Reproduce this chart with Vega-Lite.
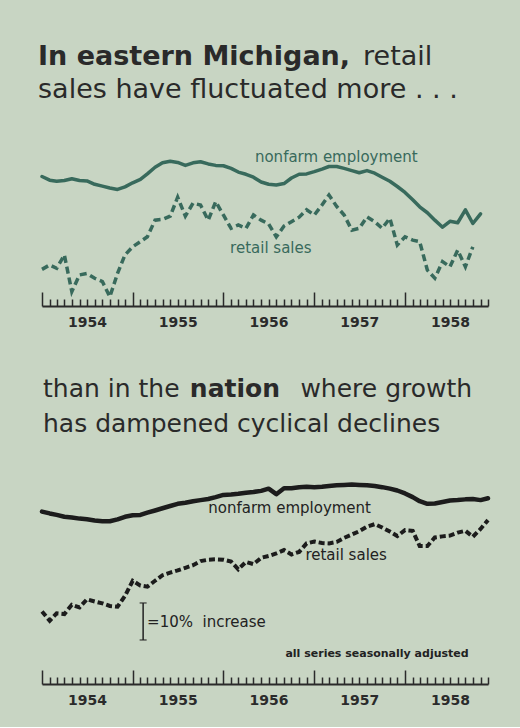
{
  "$schema": "https://vega.github.io/schema/vega-lite/v6.json",
  "background": "#c8d5c3",
  "padding": {"left": 34, "top": 10, "right": 32, "bottom": 20},
  "bounds": "flush",
  "spacing": 45,
  "config": {"view": {"stroke": null}, "font": "DejaVu Sans"},
  "datasets": {
    "michigan": [
      {"month":"1954-01-01","employment":35.0,"retail":9.9},
      {"month":"1954-02-01","employment":34.0,"retail":11.1},
      {"month":"1954-03-01","employment":33.7,"retail":10.2},
      {"month":"1954-04-01","employment":33.9,"retail":13.8},
      {"month":"1954-05-01","employment":34.4,"retail":3.9},
      {"month":"1954-06-01","employment":33.9,"retail":8.4},
      {"month":"1954-07-01","employment":33.8,"retail":8.8},
      {"month":"1954-08-01","employment":32.9,"retail":7.5},
      {"month":"1954-09-01","employment":32.4,"retail":6.6},
      {"month":"1954-10-01","employment":31.9,"retail":2.5},
      {"month":"1954-11-01","employment":31.5,"retail":8.8},
      {"month":"1954-12-01","employment":32.2,"retail":13.8},
      {"month":"1955-01-01","employment":33.3,"retail":16.0},
      {"month":"1955-02-01","employment":34.2,"retail":17.4},
      {"month":"1955-03-01","employment":35.7,"retail":18.7},
      {"month":"1955-04-01","employment":37.5,"retail":23.2},
      {"month":"1955-05-01","employment":38.7,"retail":23.4},
      {"month":"1955-06-01","employment":39.1,"retail":24.3},
      {"month":"1955-07-01","employment":38.8,"retail":29.4},
      {"month":"1955-08-01","employment":38.0,"retail":24.3},
      {"month":"1955-09-01","employment":38.7,"retail":27.8},
      {"month":"1955-10-01","employment":39.0,"retail":27.3},
      {"month":"1955-11-01","employment":38.4,"retail":23.2},
      {"month":"1955-12-01","employment":38.0,"retail":28.2},
      {"month":"1956-01-01","employment":37.9,"retail":24.6},
      {"month":"1956-02-01","employment":37.2,"retail":21.0},
      {"month":"1956-03-01","employment":36.2,"retail":21.9},
      {"month":"1956-04-01","employment":35.6,"retail":21.0},
      {"month":"1956-05-01","employment":34.8,"retail":24.6},
      {"month":"1956-06-01","employment":33.5,"retail":23.2},
      {"month":"1956-07-01","employment":32.9,"retail":22.2},
      {"month":"1956-08-01","employment":32.7,"retail":18.7},
      {"month":"1956-09-01","employment":33.1,"retail":21.6},
      {"month":"1956-10-01","employment":34.6,"retail":22.8},
      {"month":"1956-11-01","employment":35.6,"retail":24.0},
      {"month":"1956-12-01","employment":35.7,"retail":26.0},
      {"month":"1957-01-01","employment":36.3,"retail":24.6},
      {"month":"1957-02-01","employment":37.0,"retail":27.3},
      {"month":"1957-03-01","employment":37.7,"retail":30.0},
      {"month":"1957-04-01","employment":37.7,"retail":26.9},
      {"month":"1957-05-01","employment":37.2,"retail":24.6},
      {"month":"1957-06-01","employment":36.6,"retail":20.5},
      {"month":"1957-07-01","employment":36.0,"retail":21.0},
      {"month":"1957-08-01","employment":36.6,"retail":24.1},
      {"month":"1957-09-01","employment":35.9,"retail":22.8},
      {"month":"1957-10-01","employment":34.8,"retail":21.0},
      {"month":"1957-11-01","employment":33.7,"retail":23.7},
      {"month":"1957-12-01","employment":32.3,"retail":16.5},
      {"month":"1958-01-01","employment":30.7,"retail":18.7},
      {"month":"1958-02-01","employment":28.7,"retail":17.8},
      {"month":"1958-03-01","employment":26.8,"retail":17.4},
      {"month":"1958-04-01","employment":25.2,"retail":9.7},
      {"month":"1958-05-01","employment":23.2,"retail":7.5},
      {"month":"1958-06-01","employment":21.3,"retail":12.0},
      {"month":"1958-07-01","employment":22.9,"retail":10.6},
      {"month":"1958-08-01","employment":22.5,"retail":15.1},
      {"month":"1958-09-01","employment":26.0,"retail":10.6},
      {"month":"1958-10-01","employment":22.3,"retail":16.0},
      {"month":"1958-11-01","employment":24.9,"retail":null}
    ],
    "nation": [
      {"month":"1954-01-01","employment":46.6,"retail":19.6},
      {"month":"1954-02-01","employment":46.1,"retail":17.1},
      {"month":"1954-03-01","employment":45.7,"retail":19.1},
      {"month":"1954-04-01","employment":45.2,"retail":18.9},
      {"month":"1954-05-01","employment":45.0,"retail":21.4},
      {"month":"1954-06-01","employment":44.7,"retail":20.7},
      {"month":"1954-07-01","employment":44.5,"retail":22.9},
      {"month":"1954-08-01","employment":44.2,"retail":22.3},
      {"month":"1954-09-01","employment":44.0,"retail":21.8},
      {"month":"1954-10-01","employment":44.0,"retail":21.1},
      {"month":"1954-11-01","employment":44.5,"retail":20.9},
      {"month":"1954-12-01","employment":45.2,"retail":23.8},
      {"month":"1955-01-01","employment":45.6,"retail":27.9},
      {"month":"1955-02-01","employment":45.7,"retail":26.6},
      {"month":"1955-03-01","employment":46.3,"retail":26.3},
      {"month":"1955-04-01","employment":46.9,"retail":27.9},
      {"month":"1955-05-01","employment":47.5,"retail":29.4},
      {"month":"1955-06-01","employment":48.1,"retail":30.1},
      {"month":"1955-07-01","employment":48.7,"retail":30.7},
      {"month":"1955-08-01","employment":49.0,"retail":31.4},
      {"month":"1955-09-01","employment":49.4,"retail":32.1},
      {"month":"1955-10-01","employment":49.7,"retail":33.2},
      {"month":"1955-11-01","employment":50.0,"retail":33.6},
      {"month":"1955-12-01","employment":50.5,"retail":33.7},
      {"month":"1956-01-01","employment":51.1,"retail":33.6},
      {"month":"1956-02-01","employment":51.2,"retail":33.1},
      {"month":"1956-03-01","employment":51.4,"retail":31.0},
      {"month":"1956-04-01","employment":51.7,"retail":33.0},
      {"month":"1956-05-01","employment":51.9,"retail":32.4},
      {"month":"1956-06-01","employment":52.2,"retail":34.1},
      {"month":"1956-07-01","employment":52.8,"retail":34.6},
      {"month":"1956-08-01","employment":51.3,"retail":35.3},
      {"month":"1956-09-01","employment":52.9,"retail":36.2},
      {"month":"1956-10-01","employment":52.9,"retail":35.0},
      {"month":"1956-11-01","employment":53.2,"retail":35.7},
      {"month":"1956-12-01","employment":53.3,"retail":38.0},
      {"month":"1957-01-01","employment":53.2,"retail":38.5},
      {"month":"1957-02-01","employment":53.3,"retail":38.1},
      {"month":"1957-03-01","employment":53.5,"retail":38.0},
      {"month":"1957-04-01","employment":53.7,"retail":38.4},
      {"month":"1957-05-01","employment":53.8,"retail":39.5},
      {"month":"1957-06-01","employment":53.9,"retail":40.4},
      {"month":"1957-07-01","employment":53.8,"retail":41.3},
      {"month":"1957-08-01","employment":53.7,"retail":42.5},
      {"month":"1957-09-01","employment":53.5,"retail":43.2},
      {"month":"1957-10-01","employment":53.2,"retail":42.3},
      {"month":"1957-11-01","employment":52.8,"retail":41.2},
      {"month":"1957-12-01","employment":52.3,"retail":40.0},
      {"month":"1958-01-01","employment":51.5,"retail":41.6},
      {"month":"1958-02-01","employment":50.5,"retail":41.4},
      {"month":"1958-03-01","employment":49.4,"retail":37.3},
      {"month":"1958-04-01","employment":48.7,"retail":37.3},
      {"month":"1958-05-01","employment":48.8,"retail":39.6},
      {"month":"1958-06-01","employment":49.2,"retail":39.9},
      {"month":"1958-07-01","employment":49.6,"retail":40.1},
      {"month":"1958-08-01","employment":49.7,"retail":40.9},
      {"month":"1958-09-01","employment":49.9,"retail":41.4},
      {"month":"1958-10-01","employment":50.0,"retail":39.8},
      {"month":"1958-11-01","employment":49.7,"retail":41.9},
      {"month":"1958-12-01","employment":50.2,"retail":44.3}
    ],
    "textA": [
      {"x":"1953-12-16","y":65.1,"text":"In eastern Michigan,","role":"titleBold"},
      {"x":"1957-07-16","y":65.1,"text":"retail","role":"title"},
      {"x":"1953-12-16","y":56.2,"text":"sales have fluctuated more . . .","role":"title"},
      {"x":"1956-05-07","y":38.9,"text":"nonfarm employment","role":"label"},
      {"x":"1956-01-28","y":14.3,"text":"retail sales","role":"label"}
    ],
    "textB": [
      {"x":"1954-01-05","y":77.6,"text":"than in the","role":"title"},
      {"x":"1955-08-19","y":77.6,"text":"nation","role":"titleBold"},
      {"x":"1956-11-06","y":77.6,"text":"where growth","role":"title"},
      {"x":"1954-01-05","y":68.1,"text":"has dampened cyclical declines","role":"title"},
      {"x":"1955-11-01","y":46.2,"text":"nonfarm employment","role":"label"},
      {"x":"1956-11-26","y":33.5,"text":"retail sales","role":"label"},
      {"x":"1955-02-28","y":15.4,"text":"=10%\u00a0\u00a0increase","role":"label"},
      {"x":"1958-09-14","y":7.3,"text":"all series seasonally adjusted","role":"note"}
    ],
    "scalebar": [
      {"x":"1955-02-12","lo":11.9,"hi":21.9}
    ]
  },
  "vconcat": [
    {
      "width": 446,
      "height": 296,
      "layer": [
        {
          "data": {"name": "michigan"},
          "mark": {"type": "line", "color": "#386a5c", "strokeWidth": 3.5, "strokeJoin": "round", "strokeCap": "round"},
          "encoding": {
            "x": {
              "field": "month", "type": "temporal", "title": null,
              "scale": {"type": "utc", "domain": [{"year": 1954, "month": 1, "date": 1, "utc": true}, {"year": 1958, "month": 12, "date": 1, "utc": true}]},
              "axis": {
                "title": null, "grid": false,
                "tickCount": {"interval": "month", "step": 1},
                "tickSize": {"condition": {"test": "utcmonth(datum.value) === 0", "value": -14}, "value": -7},
                "tickWidth": 1.5, "tickColor": "#2a2a2a",
                "domainColor": "#2a2a2a", "domainWidth": 2,
                "labelExpr": "utcmonth(datum.value) === 6 ? utcFormat(datum.value, '%Y') : ''",
                "labelOverlap": false, "labelFlush": false, "labelBound": false,
                "labelFont": "DejaVu Sans", "labelFontSize": 14, "labelFontWeight": "bold",
                "labelColor": "#2b2b2b", "labelPadding": 16
              }
            },
            "y": {"field": "employment", "type": "quantitative", "scale": {"domain": [0, 80]}, "axis": null}
          }
        },
        {
          "data": {"name": "michigan"},
          "mark": {"type": "line", "color": "#386a5c", "strokeWidth": 3.5, "strokeDash": [7, 4]},
          "encoding": {
            "x": {"field": "month", "type": "temporal", "title": null},
            "y": {"field": "retail", "type": "quantitative", "axis": null}
          }
        },
        {
          "data": {"name": "textA"},
          "transform": [{"filter": "datum.role === 'titleBold'"}],
          "mark": {"type": "text", "align": "left", "baseline": "alphabetic", "font": "DejaVu Sans", "fontSize": 27, "fontWeight": "bold", "color": "#2a2a2a"},
          "encoding": {
            "x": {"field": "x", "type": "temporal", "title": null},
            "y": {"field": "y", "type": "quantitative", "axis": null},
            "text": {"field": "text"}
          }
        },
        {
          "data": {"name": "textA"},
          "transform": [{"filter": "datum.role === 'title'"}],
          "mark": {"type": "text", "align": "left", "baseline": "alphabetic", "font": "DejaVu Sans", "fontSize": 27, "color": "#2a2a2a"},
          "encoding": {
            "x": {"field": "x", "type": "temporal", "title": null},
            "y": {"field": "y", "type": "quantitative", "axis": null},
            "text": {"field": "text"}
          }
        },
        {
          "data": {"name": "textA"},
          "transform": [{"filter": "datum.role === 'label'"}],
          "mark": {"type": "text", "align": "left", "baseline": "alphabetic", "font": "DejaVu Sans", "fontSize": 15, "color": "#386a5c"},
          "encoding": {
            "x": {"field": "x", "type": "temporal", "title": null},
            "y": {"field": "y", "type": "quantitative", "axis": null},
            "text": {"field": "text"}
          }
        }
      ]
    },
    {
      "width": 446,
      "height": 333,
      "layer": [
        {
          "data": {"name": "nation"},
          "mark": {"type": "line", "color": "#1c1c1c", "strokeWidth": 4.5, "strokeJoin": "round", "strokeCap": "round"},
          "encoding": {
            "x": {
              "field": "month", "type": "temporal", "title": null,
              "scale": {"type": "utc", "domain": [{"year": 1954, "month": 1, "date": 1, "utc": true}, {"year": 1958, "month": 12, "date": 1, "utc": true}]},
              "axis": {
                "title": null, "grid": false,
                "tickCount": {"interval": "month", "step": 1},
                "tickSize": {"condition": {"test": "utcmonth(datum.value) === 0", "value": -14}, "value": -7},
                "tickWidth": 1.5, "tickColor": "#2a2a2a",
                "domainColor": "#2a2a2a", "domainWidth": 2,
                "labelExpr": "utcmonth(datum.value) === 6 ? utcFormat(datum.value, '%Y') : ''",
                "labelOverlap": false, "labelFlush": false, "labelBound": false,
                "labelFont": "DejaVu Sans", "labelFontSize": 14, "labelFontWeight": "bold",
                "labelColor": "#2b2b2b", "labelPadding": 16
              }
            },
            "y": {"field": "employment", "type": "quantitative", "scale": {"domain": [0, 90]}, "axis": null}
          }
        },
        {
          "data": {"name": "nation"},
          "mark": {"type": "line", "color": "#1c1c1c", "strokeWidth": 4, "strokeDash": [6, 3]},
          "encoding": {
            "x": {"field": "month", "type": "temporal", "title": null},
            "y": {"field": "retail", "type": "quantitative", "axis": null}
          }
        },
        {
          "data": {"name": "textB"},
          "transform": [{"filter": "datum.role === 'titleBold'"}],
          "mark": {"type": "text", "align": "left", "baseline": "alphabetic", "font": "DejaVu Sans", "fontSize": 25, "fontWeight": "bold", "color": "#2a2a2a"},
          "encoding": {
            "x": {"field": "x", "type": "temporal", "title": null},
            "y": {"field": "y", "type": "quantitative", "axis": null},
            "text": {"field": "text"}
          }
        },
        {
          "data": {"name": "textB"},
          "transform": [{"filter": "datum.role === 'title'"}],
          "mark": {"type": "text", "align": "left", "baseline": "alphabetic", "font": "DejaVu Sans", "fontSize": 25, "color": "#2a2a2a"},
          "encoding": {
            "x": {"field": "x", "type": "temporal", "title": null},
            "y": {"field": "y", "type": "quantitative", "axis": null},
            "text": {"field": "text"}
          }
        },
        {
          "data": {"name": "textB"},
          "transform": [{"filter": "datum.role === 'label'"}],
          "mark": {"type": "text", "align": "left", "baseline": "alphabetic", "font": "DejaVu Sans", "fontSize": 15, "color": "#222222"},
          "encoding": {
            "x": {"field": "x", "type": "temporal", "title": null},
            "y": {"field": "y", "type": "quantitative", "axis": null},
            "text": {"field": "text"}
          }
        },
        {
          "data": {"name": "textB"},
          "transform": [{"filter": "datum.role === 'note'"}],
          "mark": {"type": "text", "align": "right", "baseline": "alphabetic", "font": "DejaVu Sans", "fontSize": 11, "fontWeight": "bold", "color": "#222222"},
          "encoding": {
            "x": {"field": "x", "type": "temporal", "title": null},
            "y": {"field": "y", "type": "quantitative", "axis": null},
            "text": {"field": "text"}
          }
        },
        {
          "data": {"name": "scalebar"},
          "mark": {"type": "rule", "color": "#222222", "strokeWidth": 1.5},
          "encoding": {
            "x": {"field": "x", "type": "temporal", "title": null},
            "y": {"field": "lo", "type": "quantitative", "axis": null},
            "y2": {"field": "hi"}
          }
        },
        {
          "data": {"name": "scalebar"},
          "mark": {"type": "tick", "orient": "horizontal", "color": "#222222", "size": 7, "thickness": 1.5},
          "encoding": {
            "x": {"field": "x", "type": "temporal", "title": null},
            "y": {"field": "lo", "type": "quantitative", "axis": null}
          }
        },
        {
          "data": {"name": "scalebar"},
          "mark": {"type": "tick", "orient": "horizontal", "color": "#222222", "size": 7, "thickness": 1.5},
          "encoding": {
            "x": {"field": "x", "type": "temporal", "title": null},
            "y": {"field": "hi", "type": "quantitative", "axis": null}
          }
        }
      ]
    }
  ]
}
